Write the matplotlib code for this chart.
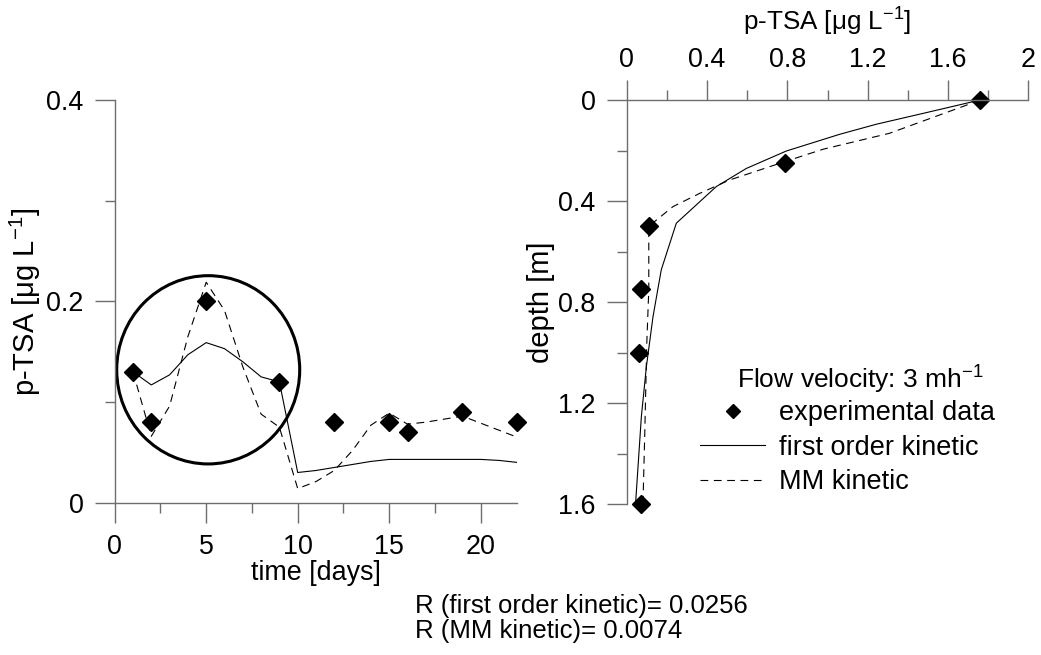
"""Breakthrough curve and depth profile of p-TSA: measured vs. kinetic models."""
import matplotlib
matplotlib.use("Agg")
import matplotlib.pyplot as plt
from matplotlib.patches import Ellipse
from matplotlib.ticker import MultipleLocator, FuncFormatter

plt.rcParams["font.family"] = ["Liberation Sans", "DejaVu Sans"]
plt.rcParams["mathtext.fontset"] = "custom"
plt.rcParams["mathtext.rm"] = "Liberation Sans"
plt.rcParams["mathtext.it"] = "Liberation Sans:italic"
plt.rcParams["mathtext.bf"] = "Liberation Sans:bold"

# left panel: outlet concentration over time
time_exp = [1, 2, 5, 9, 12, 15, 16, 19, 22]
ptsa_exp = [0.13, 0.08, 0.20, 0.12, 0.08, 0.08, 0.07, 0.09, 0.08]

time_model = list(range(1, 23))
ptsa_first_order = [0.130, 0.117, 0.127, 0.147, 0.159, 0.153, 0.140, 0.125,
                    0.120, 0.030, 0.032, 0.035, 0.038, 0.041, 0.043, 0.043,
                    0.043, 0.043, 0.043, 0.043, 0.042, 0.040]
ptsa_mm = [0.130, 0.066, 0.096, 0.165, 0.219, 0.191, 0.135, 0.088,
           0.075, 0.014, 0.021, 0.032, 0.052, 0.077, 0.089, 0.078,
           0.080, 0.083, 0.086, 0.079, 0.072, 0.065]

# right panel: concentration profile along depth
depth_exp = [0.0, 0.25, 0.5, 0.75, 1.0, 1.6]
conc_exp = [1.76, 0.79, 0.11, 0.07, 0.06, 0.07]

depth_first_order = [0.0, 0.053, 0.096, 0.136, 0.202, 0.271, 0.343, 0.488,
                     0.673, 0.858, 1.056, 1.254, 1.6]
conc_first_order = [1.76, 1.476, 1.243, 1.06, 0.795, 0.596, 0.446, 0.247,
                    0.172, 0.131, 0.098, 0.073, 0.044]

depth_mm = [0.0, 0.026, 0.132, 0.195, 0.244, 0.317, 0.37, 0.422, 0.5,
            0.75, 0.964, 1.32, 1.6]
conc_mm = [1.76, 1.673, 1.308, 0.978, 0.788, 0.512, 0.363, 0.231, 0.11,
           0.11, 0.10, 0.09, 0.081]

W, H = 1041, 655
FS = 19.4
AXIS_COLOR = "#6e6e6e"
DASHES = (7, 5)


def style_ticks(ax):
    ax.tick_params(which="major", direction="out", length=14.4, width=1,
                   color=AXIS_COLOR, labelsize=FS, pad=8)
    ax.tick_params(which="minor", direction="out", length=7.2, width=1,
                   color=AXIS_COLOR)
    for s in ax.spines.values():
        s.set_color(AXIS_COLOR)
        s.set_linewidth(1)


fmt = FuncFormatter(lambda v, _: f"{v:g}")

fig = plt.figure(figsize=(W / 100, H / 100), dpi=100)

# ---- left panel
ax1 = fig.add_axes([114.7 / W, 1 - 502.7 / H, 402.6 / W, 402.7 / H])
ax1.plot(time_model, ptsa_first_order, color="black", lw=0.8)
ax1.plot(time_model, ptsa_mm, color="black", lw=0.8, dashes=DASHES)
ax1.plot(time_exp, ptsa_exp, "D", color="black", markersize=9, clip_on=False)
ax1.add_patch(Ellipse((5.11, 0.132), 10.0, 0.187, fill=False,
                      edgecolor="black", lw=2.2))
ax1.set_xlim(0, 22)
ax1.set_ylim(0, 0.4)
ax1.xaxis.set_major_locator(MultipleLocator(5))
ax1.xaxis.set_minor_locator(MultipleLocator(2.5))
ax1.yaxis.set_major_locator(MultipleLocator(0.2))
ax1.yaxis.set_minor_locator(MultipleLocator(0.1))
ax1.xaxis.set_major_formatter(fmt)
ax1.yaxis.set_major_formatter(fmt)
ax1.spines["top"].set_visible(False)
ax1.spines["right"].set_visible(False)
style_ticks(ax1)
ax1.tick_params(axis="x", which="major", pad=8)
ax1.set_xlabel("time [days]", fontsize=FS, labelpad=0)
ax1.set_ylabel("p-TSA [μg L$^{-1}$]", fontsize=21, labelpad=2)

# ---- right panel
ax2 = fig.add_axes([626.7 / W, 1 - 504 / H, 401.6 / W, 404 / H])
ax2.plot(conc_exp, depth_exp, "D", color="black", markersize=9,
         clip_on=False, label="experimental data")
ax2.plot(conc_first_order, depth_first_order, color="black", lw=0.8,
         label="first order kinetic")
ax2.plot(conc_mm, depth_mm, color="black", lw=0.8, dashes=DASHES,
         label="MM kinetic")
ax2.set_xlim(0, 2)
ax2.set_ylim(1.6, 0)
ax2.xaxis.tick_top()
ax2.xaxis.set_label_position("top")
ax2.xaxis.set_major_locator(MultipleLocator(0.4))
ax2.xaxis.set_minor_locator(MultipleLocator(0.2))
ax2.yaxis.set_major_locator(MultipleLocator(0.4))
ax2.yaxis.set_minor_locator(MultipleLocator(0.2))
ax2.xaxis.set_major_formatter(fmt)
ax2.yaxis.set_major_formatter(fmt)
ax2.spines["bottom"].set_visible(False)
ax2.spines["right"].set_visible(False)
style_ticks(ax2)
ax2.tick_params(axis="x", which="major", pad=5)
ax2.set_xlabel("p-TSA [μg L$^{-1}$]", fontsize=18.7, labelpad=12)
ax2.set_ylabel("depth [m]", fontsize=21, labelpad=2)

leg = ax2.legend(loc="upper left", bbox_to_anchor=(700 / W, 1 - 400 / H),
                 bbox_transform=fig.transFigure, frameon=False, fontsize=19.5,
                 handlelength=2.4, handletextpad=0.5, markerscale=0.8,
                 labelspacing=0.32, borderpad=0, borderaxespad=0)
fig.text(860 / W, 1 - 380 / H, "Flow velocity: 3 mh$^{-1}$", fontsize=19,
         ha="center", va="center")

fig.text(415 / W, 1 - 613 / H, "R (first order kinetic)= 0.0256",
         fontsize=18.5, va="baseline", ha="left")
fig.text(415 / W, 1 - 638 / H, "R (MM kinetic)= 0.0074",
         fontsize=18.5, va="baseline", ha="left")

fig.savefig("out.png", dpi=100)
